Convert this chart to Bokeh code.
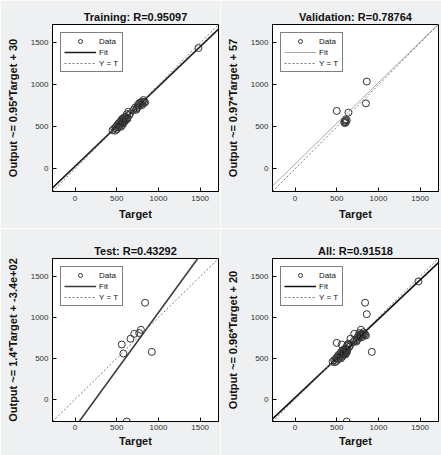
from bokeh.plotting import figure
from bokeh.layouts import gridplot
from bokeh.models import Legend, LegendItem, FixedTicker, Range1d
from bokeh.embed import file_html
from bokeh.resources import INLINE

# ---------------- data ----------------
titles = ["Training: R=0.95097", "Validation: R=0.78764", "Test: R=0.43292", "All: R=0.91518"]
ylabels = ["Output ~= 0.95*Target + 30", "Output ~= 0.97*Target + 57",
           "Output ~= 1.4*Target + -3.4e+02", "Output ~= 0.96*Target + 20"]
fit_slope = [0.95, 0.97, 1.4, 0.96]
fit_intercept = [30, 57, -340, 20]
tick_values = [0, 500, 1000, 1500]
axis_limits = [-270, 1720]

train_target = [450, 470, 480, 490, 500, 505, 515, 520, 530, 540, 545, 550, 555, 560, 565,
                570, 575, 580, 585, 590, 595, 600, 605, 610, 620, 625, 630, 640, 650, 660,
                700, 720, 735, 740, 750, 760, 770, 780, 790, 800, 805, 810, 820, 830, 840, 1480]
train_output = [460, 480, 455, 500, 470, 520, 495, 540, 510, 560, 530, 500, 580, 550, 520,
                600, 560, 590, 545, 570, 610, 620, 580, 600, 650, 590, 610, 680, 640, 660,
                700, 730, 705, 720, 760, 740, 780, 790, 770, 800, 760, 780, 820, 800, 790, 1440]

val_target = [500, 640, 590, 600, 610, 620, 605, 595, 860, 850]
val_output = [690, 670, 560, 575, 555, 580, 590, 545, 1040, 780]

test_target = [840, 560, 580, 665, 710, 790, 770, 920, 620]
test_output = [1180, 670, 560, 740, 800, 850, 810, 580, -270]

all_target = train_target + val_target + test_target
all_output = train_output + val_output + test_output

targets = [train_target, val_target, test_target, all_target]
outputs = [train_output, val_output, test_output, all_output]

# ---------------- styling ----------------
fit_colors = ["#1e1e1e", "#a8a8a8", "#3a3a3a", "#111111"]
fit_widths = [1.6, 1.0, 1.6, 1.6]
bg = "#eef0f2"

col_w = [220, 221]
row_h = [228, 227]
border_left = [52, 52]
border_right = [2, 3]
border_top = [24, 30]
border_bottom = [37, 34]
xlabel_standoff = [4, 2]
tick_standoff = [4, 3]


def make_panel(i):
    c = i % 2
    r = i // 2
    p = figure(width=col_w[c], height=row_h[r], output_backend="svg", toolbar_location=None,
               x_range=Range1d(*axis_limits), y_range=Range1d(*axis_limits),
               min_border_left=border_left[c], min_border_right=border_right[c],
               min_border_top=border_top[r], min_border_bottom=border_bottom[r])
    p.background_fill_color = "white"
    p.border_fill_color = bg
    p.outline_line_color = "black"
    p.outline_line_width = 1
    p.grid.visible = False

    p.title.text = titles[i]
    p.title.align = "center"
    p.title.text_font = "Liberation Sans"
    p.title.text_font_size = "11px"
    p.title.text_font_style = "bold"
    p.title.text_color = "#111111"
    p.title.standoff = 4
    p.title.offset = 0

    for ax in (p.xaxis[0], p.yaxis[0]):
        ax.ticker = FixedTicker(ticks=tick_values)
        ax.major_tick_in = 4
        ax.major_tick_out = 0
        ax.minor_tick_line_color = None
        ax.axis_line_color = "black"
        ax.major_label_text_font = "Liberation Sans"
        ax.major_label_text_font_size = "8px"
        ax.major_label_text_color = "#333333"
        ax.axis_label_text_font = "Liberation Sans"
        ax.axis_label_text_font_size = "11px"
        ax.axis_label_text_font_style = "bold"
        ax.axis_label_text_color = "#111111"
    p.xaxis.major_label_standoff = tick_standoff[r]
    p.yaxis.major_label_standoff = 4
    p.xaxis.axis_label = "Target"
    p.xaxis.axis_label_standoff = xlabel_standoff[r]
    p.yaxis.axis_label = ylabels[i]
    p.yaxis.axis_label_standoff = 9

    data_r = p.scatter(targets[i], outputs[i], marker="circle", size=7,
                       fill_color=None, line_color="#333333", line_width=1)
    xs = axis_limits
    ys = [fit_slope[i] * x + fit_intercept[i] for x in xs]
    fit_r = p.line(xs, ys, line_color=fit_colors[i], line_width=fit_widths[i])
    yt_r = p.line(axis_limits, axis_limits, line_color="#7a7a7a", line_width=1,
                  line_dash="2 2")

    legend = Legend(items=[LegendItem(label="Data", renderers=[data_r]),
                           LegendItem(label="Fit", renderers=[fit_r]),
                           LegendItem(label="Y = T", renderers=[yt_r])],
                    location="top_left")
    legend.label_text_font = "Liberation Sans"
    legend.label_text_font_size = "8px"
    legend.label_text_color = "#111111"
    legend.label_height = 10
    legend.glyph_height = 10
    legend.glyph_width = 32
    legend.spacing = 1
    legend.padding = 3
    legend.margin = 8
    legend.label_standoff = 3
    legend.border_line_color = "black"
    legend.border_line_width = 1
    legend.background_fill_color = "white"
    legend.background_fill_alpha = 1
    p.add_layout(legend)
    return p


panels = [make_panel(i) for i in range(4)]
grid = gridplot([[panels[0], panels[1]], [panels[2], panels[3]]], toolbar_location=None)

open("out.html", "w").write(file_html(grid, INLINE))
